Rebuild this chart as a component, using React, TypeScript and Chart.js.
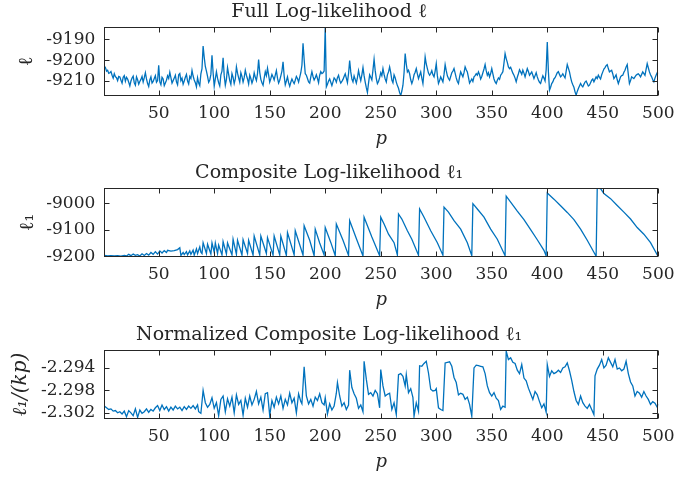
import React, { useEffect, useRef } from "react";
import { Chart, registerables } from "chart.js";

Chart.register(...registerables);

// ---------- shared axis data ----------
const X_TICKS = [50, 100, 150, 200, 250, 300, 350, 400, 450, 500];
const Y_TICKS_FULL = [-9210, -9200, -9190];
const Y_TICKS_COMP = [-9200, -9100, -9000];
const Y_TICKS_NORM = [-2.302, -2.298, -2.294];

// ---------- Full log-likelihood (p = 1 .. 500) ----------
const fullP = Array.from({ length: 500 }, (_, i) => i + 1);
const fullLL = [
  -9202.8, -9203.5, -9205.2, -9204.8, -9206.3, -9206.0, -9205.4, -9207.2, -9208.6, -9206.5, -9207.9, -9208.4, -9209.8, -9207.8, -9208.0, -9209.6, -9211.0, -9208.2, -9207.4, -9210.1,
  -9208.2, -9209.0, -9210.6, -9212.4, -9210.0, -9208.5, -9207.6, -9210.8, -9212.0, -9208.0, -9209.4, -9211.5, -9210.2, -9209.2, -9207.8, -9210.5, -9208.4, -9206.0, -9209.0, -9211.2,
  -9212.6, -9209.5, -9208.0, -9211.0, -9210.2, -9208.8, -9207.4, -9210.6, -9209.8, -9202.4, -9210.4, -9211.8, -9208.2, -9209.0, -9212.2, -9210.9, -9209.6, -9207.5, -9208.8, -9205.8,
  -9208.4, -9211.0, -9209.8, -9208.6, -9207.2, -9210.4, -9211.8, -9207.0, -9206.4, -9209.8, -9208.6, -9211.5, -9210.0, -9208.2, -9206.8, -9210.0, -9211.4, -9207.8, -9208.8, -9204.9,
  -9207.6, -9209.5, -9210.8, -9212.8, -9208.4, -9211.0, -9212.2, -9206.5, -9204.0, -9193.2, -9198.6, -9203.0, -9205.2, -9207.8, -9210.6, -9209.5, -9206.8, -9197.6, -9206.0, -9212.5,
  -9209.0, -9205.5, -9208.6, -9210.8, -9212.4, -9207.0, -9205.2, -9198.8, -9207.4, -9212.0, -9209.2, -9203.5, -9206.8, -9209.8, -9211.6, -9206.4, -9208.2, -9211.2, -9209.0, -9203.2,
  -9206.2, -9208.5, -9210.6, -9206.0, -9207.8, -9210.5, -9208.4, -9204.8, -9207.2, -9209.0, -9211.4, -9207.2, -9208.8, -9211.0, -9209.4, -9206.0, -9208.2, -9209.8, -9206.4, -9199.7,
  -9205.8, -9209.2, -9210.8, -9212.0, -9208.6, -9205.5, -9207.4, -9203.8, -9207.0, -9210.5, -9208.8, -9206.8, -9208.0, -9209.5, -9207.2, -9205.0, -9208.6, -9211.0, -9209.6, -9207.5,
  -9205.2, -9200.7, -9207.6, -9211.8, -9210.0, -9208.0, -9210.8, -9212.5, -9210.6, -9209.0, -9210.2, -9211.2, -9209.6, -9207.8, -9208.8, -9210.5, -9208.2, -9206.0, -9202.4, -9191.8,
  -9199.6, -9206.5, -9207.2, -9208.8, -9210.4, -9211.0, -9208.0, -9205.5, -9207.8, -9209.5, -9208.4, -9207.0, -9208.8, -9210.8, -9207.2, -9205.5, -9206.4, -9206.0, -9205.2, -9184.0,
  -9212.8, -9211.5, -9210.0, -9209.0, -9210.6, -9212.2, -9210.4, -9208.5, -9209.2, -9210.5, -9208.4, -9207.2, -9209.6, -9211.0, -9210.2, -9209.2, -9207.8, -9206.5, -9208.6, -9210.8,
  -9206.4, -9200.2, -9205.6, -9209.0, -9210.4, -9207.5, -9209.2, -9211.0, -9208.4, -9205.0, -9207.6, -9209.8, -9207.0, -9203.5, -9207.4, -9210.5, -9213.2, -9215.5, -9211.0, -9207.0,
  -9208.2, -9209.5, -9204.6, -9199.5, -9205.0, -9208.8, -9211.2, -9210.2, -9208.4, -9206.0, -9207.4, -9204.0, -9206.8, -9209.0, -9210.4, -9207.0, -9205.6, -9203.2, -9206.0, -9209.5,
  -9210.8, -9207.0, -9208.4, -9210.5, -9212.2, -9213.5, -9215.6, -9217.0, -9214.8, -9212.0, -9206.0, -9196.8, -9201.8, -9205.6, -9204.8, -9206.5, -9209.4, -9211.2, -9209.6, -9207.0,
  -9205.8, -9204.0, -9206.6, -9208.8, -9207.2, -9205.6, -9208.6, -9211.2, -9205.4, -9198.4, -9201.8, -9204.0, -9206.2, -9207.2, -9206.4, -9205.0, -9207.0, -9208.0, -9205.2, -9201.6,
  -9207.4, -9211.2, -9209.8, -9208.0, -9209.2, -9210.4, -9206.8, -9202.1, -9205.0, -9207.5, -9208.8, -9209.6, -9207.8, -9206.0, -9205.2, -9204.0, -9206.2, -9208.5, -9210.2, -9211.2,
  -9208.0, -9205.6, -9206.8, -9208.0, -9206.0, -9203.2, -9204.6, -9205.6, -9208.2, -9211.0, -9210.0, -9209.0, -9210.2, -9208.0, -9207.4, -9206.5, -9207.2, -9205.6, -9207.0, -9209.0,
  -9207.8, -9206.0, -9204.2, -9202.1, -9205.0, -9207.2, -9206.0, -9208.0, -9206.4, -9204.0, -9206.6, -9209.0, -9210.4, -9211.2, -9209.6, -9208.5, -9209.2, -9207.2, -9206.4, -9205.5,
  -9201.4, -9196.8, -9199.2, -9201.0, -9203.2, -9204.0, -9203.4, -9204.8, -9206.2, -9207.2, -9208.6, -9210.4, -9208.2, -9206.5, -9204.6, -9205.6, -9206.8, -9204.8, -9206.2, -9208.0,
  -9206.0, -9204.0, -9205.4, -9207.2, -9206.4, -9205.6, -9207.2, -9208.8, -9207.4, -9206.0, -9208.0, -9209.5, -9210.6, -9211.2, -9209.2, -9207.5, -9208.6, -9210.0, -9204.6, -9191.2,
  -9205.4, -9214.4, -9213.0, -9211.2, -9210.4, -9209.0, -9208.4, -9207.2, -9206.0, -9205.5, -9206.8, -9208.0, -9207.4, -9206.5, -9207.6, -9208.5, -9205.4, -9202.1, -9203.8, -9205.6,
  -9208.2, -9210.4, -9211.8, -9213.0, -9215.2, -9216.8, -9215.0, -9213.6, -9212.4, -9211.2, -9212.2, -9212.8, -9211.6, -9210.5, -9210.0, -9211.2, -9212.4, -9212.0, -9210.8, -9209.6,
  -9209.0, -9210.4, -9209.2, -9208.0, -9208.8, -9207.2, -9208.2, -9209.0, -9207.0, -9205.6, -9204.2, -9203.5, -9202.6, -9202.1, -9204.0, -9205.6, -9205.2, -9204.8, -9206.6, -9208.8,
  -9208.0, -9207.0, -9209.4, -9211.2, -9209.6, -9208.0, -9207.4, -9207.2, -9205.8, -9204.8, -9203.2, -9202.1, -9206.8, -9211.2, -9209.8, -9208.0, -9208.4, -9208.8, -9208.0, -9207.2,
  -9206.8, -9206.5, -9207.2, -9208.0, -9206.8, -9205.6, -9206.4, -9207.2, -9204.4, -9201.6, -9203.6, -9205.6, -9207.0, -9208.0, -9209.4, -9210.4, -9208.6, -9207.2, -9206.0, -9206.4,
];

// ---------- Composite log-likelihood ----------
const compP = [
  1, 4, 7, 10, 13, 16, 19, 21, 23, 25, 27, 29, 31, 33, 35, 37, 39, 41, 43, 45, 47, 49, 51, 53, 55, 57, 58, 61, 64, 67, 69,
  70, 72, 73, 75, 76, 78, 79, 81, 82, 84, 85, 87, 88, 89,
  90, 93, 94, 97, 98, 100, 101, 103, 104, 107, 108, 111, 112, 116, 117, 120, 121, 125, 126, 130, 131, 135,
  136, 141, 142, 147, 148, 153, 154, 159, 160, 165, 166, 172, 173, 180,
  181, 186, 190, 191, 195, 199, 200, 205, 209, 210, 216, 221, 222, 228, 234, 235, 242, 249,
  250, 253, 257, 262, 265,
  266, 269, 274, 278, 284,
  285, 289, 295, 301, 306,
  307, 311, 316, 322, 328, 332,
  333, 337, 343, 349, 355, 362,
  363, 367, 373, 379, 385, 391, 397, 399,
  400, 406, 412, 418, 424, 430, 436, 444,
  445, 448, 451, 457, 463, 469, 475, 481, 487, 493, 500,
];
const compLL = [
  -9197, -9199, -9197.5, -9199, -9198, -9199.5, -9197, -9199, -9193, -9198, -9192, -9197, -9194, -9199, -9191, -9197, -9190, -9196, -9186, -9193, -9183, -9192, -9180, -9188, -9179, -9186, -9178, -9181, -9179, -9175, -9168,
  -9197, -9186, -9194, -9183, -9195, -9180, -9193, -9177, -9196, -9172, -9190, -9165, -9185, -9190,
  -9149, -9190, -9155, -9192, -9150, -9185, -9150, -9190, -9158, -9195, -9145, -9192, -9150, -9195, -9136, -9193, -9140, -9196, -9138, -9190, -9140, -9196,
  -9124, -9195, -9124, -9190, -9130, -9196, -9124, -9195, -9124, -9197, -9111, -9195, -9104, -9196,
  -9085, -9140, -9198, -9098, -9150, -9195, -9092, -9148, -9198, -9079, -9140, -9197, -9066, -9133, -9199, -9053, -9128, -9198,
  -9053, -9079, -9117, -9149, -9196,
  -9041, -9060, -9104, -9136, -9196,
  -9022, -9053, -9104, -9149, -9196,
  -9015, -9034, -9066, -9098, -9149, -9198,
  -9002, -9022, -9053, -9098, -9136, -9198,
  -8974, -8996, -9030, -9062, -9100, -9138, -9178, -9199,
  -8962, -8985, -9010, -9035, -9062, -9098, -9140, -9200,
  -8943, -8945, -8964, -8983, -9009, -9034, -9060, -9092, -9117, -9149, -9202,
];

// ---------- Normalized composite log-likelihood ----------
const normP = [
  1, 3, 5, 7, 9, 11, 13, 15, 17, 19, 21, 23, 25, 27, 29, 31, 33, 35, 37, 39, 41, 43, 45, 47, 49,
  51, 53, 55, 57, 59, 61, 63, 65, 67, 69, 71, 73, 75, 77, 79, 81, 83, 85, 86, 88, 90, 92, 94, 96, 98, 100,
  102, 104, 106, 108, 110, 112, 114, 116, 118, 120, 122, 124, 126, 128, 130, 132, 134, 136, 138, 140,
  142, 144, 146, 148, 150, 152, 154, 156, 158, 160, 162, 164, 166, 168, 170, 172, 174, 176, 178, 179,
  181, 183, 185, 187, 189, 191, 193, 195, 197, 199, 200, 202, 204, 206, 208, 210, 211, 213, 215, 217, 219, 221,
  222, 224, 226, 228, 230, 232, 234, 235, 237, 239, 241, 243, 245, 247, 249,
  250, 252, 254, 256, 258, 260, 262, 264, 266, 268, 270, 272, 273, 275, 277, 279, 280, 282, 284,
  285, 287, 289, 291, 293, 295, 297, 299, 300, 302, 304, 306,
  308, 310, 312, 314, 316, 318, 320, 322, 324, 326, 328, 330, 332,
  334, 336, 338, 340, 342, 344, 346, 348, 350, 352, 354, 356, 358, 360, 362,
  363, 365, 367, 369, 371, 373, 375, 377, 379, 381, 383, 385, 387, 389, 391, 393, 395, 397, 399,
  400, 402, 404, 406, 408, 410, 412, 414, 416, 418, 420, 422, 424, 426, 428, 430, 432, 434, 436, 438, 440, 442,
  443, 445, 447, 449, 451, 453, 455, 457, 459, 461, 463, 465, 467, 469, 471, 473, 475, 477, 479, 481,
  483, 485, 487, 489, 491, 493, 495, 497, 499, 500,
];
const normLL = [
  -2.3008, -2.3011, -2.3014, -2.3013, -2.3017, -2.3016, -2.3020, -2.3018, -2.3022, -2.3017, -2.3027, -2.3016, -2.3020, -2.3025, -2.3013, -2.3028, -2.3015, -2.3021, -2.3018, -2.3013, -2.3019, -2.3014, -2.3017, -2.3011, -2.3007,
  -2.3016, -2.3006, -2.3014, -2.3009, -2.3017, -2.3010, -2.3015, -2.3008, -2.3013, -2.3010, -2.3016, -2.3009, -2.3014, -2.3008, -2.3012, -2.3007, -2.3013, -2.3006, -2.3018, -2.3021, -2.2980, -2.3002, -2.3010, -2.3005, -2.2993, -2.3012,
  -2.3002, -2.3025, -2.2996, -2.2990, -2.3018, -2.2995, -2.3008, -2.2992, -2.3020, -2.2988, -2.3005, -2.2998, -2.3024, -2.2994, -2.3010, -2.2990, -2.3006, -2.2996, -2.2982, -2.3004,
  -2.2992, -2.3015, -2.2986, -2.2984, -2.3025, -2.2998, -2.3010, -2.2992, -2.3004, -2.2990, -2.3012, -2.2996, -2.3006, -2.2985, -2.3002, -2.2994, -2.3020, -2.2986, -2.3000, -2.3004,
  -2.2938, -2.2990, -2.3004, -2.2996, -2.3008, -2.2992, -2.2998, -2.2986, -2.3002, -2.3006, -2.2993, -2.3022, -2.3004, -2.3015, -2.3008, -2.2985, -2.2966, -2.2990, -2.3008, -2.3002, -2.3014, -2.3006,
  -2.2944, -2.2975, -2.2986, -2.2994, -2.3012, -2.3006, -2.3018, -2.2928, -2.2960, -2.2987, -2.2984, -2.2990, -2.2980, -2.2986, -2.3011,
  -2.2943, -2.2972, -2.2990, -2.2987, -2.2985, -2.3014, -2.3002, -2.3023, -2.2952, -2.2950, -2.2955, -2.2972, -2.2952, -2.2984, -2.2977, -2.2993, -2.3026, -2.3002, -2.3017,
  -2.2936, -2.2937, -2.2932, -2.2928, -2.2949, -2.2978, -2.2981, -2.2980, -2.2977, -2.3011, -2.3014, -2.3016,
  -2.2931, -2.2930, -2.2929, -2.2937, -2.2957, -2.2966, -2.2988, -2.2985, -2.2987, -2.2996, -2.2992, -2.3005, -2.3026,
  -2.2940, -2.2935, -2.2936, -2.2937, -2.2938, -2.2950, -2.2972, -2.2984, -2.2990, -2.2984, -2.2994, -2.2998, -2.3014, -2.3008, -2.3010,
  -2.2910, -2.2925, -2.2922, -2.2930, -2.2932, -2.2944, -2.2950, -2.2934, -2.2958, -2.2963, -2.2976, -2.2986, -2.2996, -2.2982, -2.2988, -2.3000, -2.3011, -2.3004, -2.3019,
  -2.2934, -2.2955, -2.2945, -2.2950, -2.2948, -2.2944, -2.2948, -2.2940, -2.2938, -2.2931, -2.2945, -2.2962, -2.2982, -2.2998, -2.3005, -2.2990, -2.3002, -2.3008, -2.3012, -2.3005, -2.3014, -2.3023,
  -2.2954, -2.2942, -2.2935, -2.2925, -2.2940, -2.2935, -2.2922, -2.2930, -2.2938, -2.2925, -2.2942, -2.2940, -2.2945, -2.2942, -2.2928, -2.2950, -2.2965, -2.2972, -2.2990, -2.2982,
  -2.2985, -2.2992, -2.2982, -2.2990, -2.2996, -2.3005, -2.3000, -2.3003, -2.3010, -2.3004,
];

// ---------- styling ----------
const FONT = "'DejaVu Serif', 'Liberation Serif', serif";
const TEXT = "#262626";
const LINE = "#0072BD";
const W = 677;
const H = 151;

const framePlugin = {
  id: "matlabFrame",
  afterDraw(chart: any) {
    const { ctx, chartArea: a, scales } = chart;
    const x = scales.x;
    const y = scales.y;
    const L = Math.round(a.left) + 0.5;
    const R = Math.round(a.right) - 0.5;
    const T = Math.round(a.top) + 0.5;
    const B = Math.round(a.bottom) - 0.5;
    const len = 5;
    ctx.save();
    ctx.strokeStyle = TEXT;
    ctx.lineWidth = 1;
    ctx.strokeRect(L, T, R - L, B - T);
    ctx.beginPath();
    for (const t of x.ticks) {
      const px = Math.round(x.getPixelForValue(t.value)) + 0.5;
      ctx.moveTo(px, B);
      ctx.lineTo(px, B - len);
      ctx.moveTo(px, T);
      ctx.lineTo(px, T + len);
    }
    for (const t of y.ticks) {
      const py = Math.round(y.getPixelForValue(t.value)) + 0.5;
      ctx.moveTo(L, py);
      ctx.lineTo(L + len, py);
      ctx.moveTo(R, py);
      ctx.lineTo(R - len, py);
    }
    ctx.stroke();
    ctx.restore();
  },
};

type PlotSpec = {
  title: string;
  yTitle: string;
  yTitleItalic: boolean;
  yTitlePad: number;
  xs: number[];
  ys: number[];
  yMin: number;
  yMax: number;
  yTicks: number[];
};

function makeConfig(s: PlotSpec): any {
  const points = s.xs.map((p, i) => ({ x: p, y: s.ys[i] }));
  return {
    type: "line",
    data: {
      datasets: [
        {
          data: points,
          borderColor: LINE,
          borderWidth: 1.3,
          pointRadius: 0,
          tension: 0,
          fill: false,
        },
      ],
    },
    options: {
      animation: false,
      responsive: false,
      maintainAspectRatio: false,
      events: [],
      layout: { padding: { left: 0, right: 18.7, top: 0, bottom: 0 } },
      plugins: {
        legend: { display: false },
        tooltip: { enabled: false },
        title: {
          display: true,
          text: s.title,
          color: TEXT,
          font: { family: FONT, size: 19, weight: "normal" },
          padding: { top: 0.5, bottom: 3.7 },
        },
      },
      scales: {
        x: {
          type: "linear",
          min: 1,
          max: 500,
          grid: { display: false, drawTicks: false },
          border: { display: false },
          ticks: {
            autoSkip: false,
            maxRotation: 0,
            color: TEXT,
            font: { family: FONT, size: 17 },
            padding: 7.4,
            callback: (v: number) => String(v),
          },
          afterBuildTicks: (sc: any) => {
            sc.ticks = X_TICKS.map((v) => ({ value: v }));
          },
          afterFit: (sc: any) => {
            sc.height = 55;
            sc.paddingLeft = 0;
            sc.paddingRight = 0;
          },
          title: {
            display: true,
            text: "p",
            color: TEXT,
            font: { family: FONT, size: 18, style: "italic" },
            padding: { top: 0, bottom: 0.7 },
          },
        },
        y: {
          type: "linear",
          min: s.yMin,
          max: s.yMax,
          grid: { display: false, drawTicks: false },
          border: { display: false },
          ticks: {
            color: TEXT,
            font: { family: FONT, size: 17 },
            padding: 9,
            callback: (v: number) => String(v),
          },
          afterBuildTicks: (sc: any) => {
            sc.ticks = s.yTicks.map((v) => ({ value: v }));
          },
          afterFit: (sc: any) => {
            sc.width = 104.3;
            sc.paddingTop = 0;
            sc.paddingBottom = 0;
          },
          title: {
            display: true,
            text: s.yTitle,
            color: TEXT,
            font: { family: FONT, size: 20, style: s.yTitleItalic ? "italic" : "normal" },
            padding: { top: s.yTitlePad, bottom: 0 },
          },
        },
      },
    },
    plugins: [framePlugin],
  };
}

const SPECS: { top: number; spec: PlotSpec }[] = [
  {
    top: 0,
    spec: {
      title: "Full Log-likelihood ℓ",
      yTitle: "ℓ",
      yTitleItalic: false,
      yTitlePad: 15,
      xs: fullP,
      ys: fullLL,
      yMin: -9217.2,
      yMax: -9184,
      yTicks: Y_TICKS_FULL,
    },
  },
  {
    top: 161,
    spec: {
      title: "Composite Log-likelihood ℓ₁",
      yTitle: "ℓ₁",
      yTitleItalic: false,
      yTitlePad: 15.3,
      xs: compP,
      ys: compLL,
      yMin: -9203,
      yMax: -8943,
      yTicks: Y_TICKS_COMP,
    },
  },
  {
    top: 323,
    spec: {
      title: "Normalized Composite Log-likelihood ℓ₁",
      yTitle: "ℓ₁/(kp)",
      yTitleItalic: true,
      yTitlePad: 8.7,
      xs: normP,
      ys: normLL,
      yMin: -2.3031,
      yMax: -2.2908,
      yTicks: Y_TICKS_NORM,
    },
  },
];

function Subplot({ top, spec }: { top: number; spec: PlotSpec }) {
  const ref = useRef<HTMLCanvasElement | null>(null);
  useEffect(() => {
    if (!ref.current) return;
    const chart = new Chart(ref.current, makeConfig(spec));
    return () => chart.destroy();
  }, [spec]);
  return (
    <canvas
      ref={ref}
      width={W}
      height={H}
      style={{ position: "absolute", left: 0, top, width: W, height: H }}
    />
  );
}

export default function App() {
  return (
    <div
      style={{
        position: "absolute",
        left: 0,
        top: 0,
        width: W,
        height: 479,
        background: "#ffffff",
        overflow: "hidden",
      }}
    >
      {SPECS.map((s, i) => (
        <Subplot key={i} top={s.top} spec={s.spec} />
      ))}
    </div>
  );
}
